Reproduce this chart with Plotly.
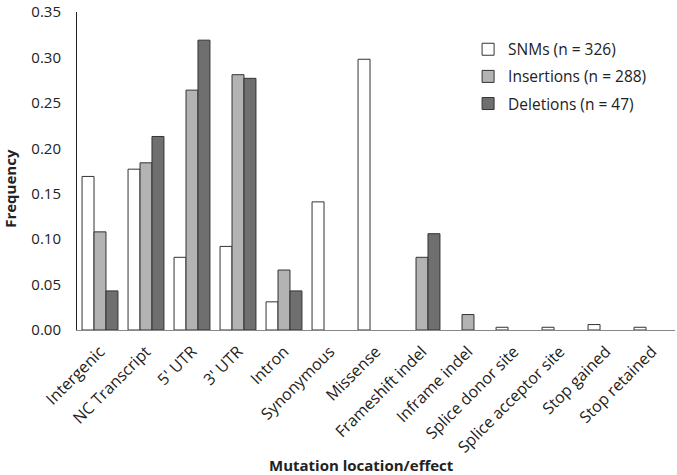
import plotly.graph_objects as go

categories = ["Intergenic", "NC Transcript", "5' UTR", "3' UTR", "Intron", "Synonymous",
              "Missense", "Frameshift indel", "Inframe indel", "Splice donor site",
              "Splice acceptor site", "Stop gained", "Stop retained"]
snms = [0.169, 0.177, 0.080, 0.092, 0.031, 0.141, 0.298, None, None, 0.003, 0.003, 0.006, 0.003]
insertions = [0.108, 0.184, 0.264, 0.281, 0.066, None, None, 0.080, 0.017, None, None, None, None]
deletions = [0.043, 0.213, 0.319, 0.277, 0.043, None, None, 0.106, None, None, None, None, None]
series_names = ["SNMs (n = 326)", "Insertions (n = 288)", "Deletions (n = 47)"]
colors = ["#ffffff", "#b3b3b3", "#6f6f6f"]
y_ticks = [0.00, 0.05, 0.10, 0.15, 0.20, 0.25, 0.30, 0.35]
x_title = "Mutation location/effect"
y_title = "Frequency"

font = "Open Sans, Lato, sans-serif"
fig = go.Figure()
for i, (name, vals, col) in enumerate(zip(series_names, [snms, insertions, deletions], colors)):
    fig.add_trace(go.Bar(x=categories, y=vals, name=name, marker_color=col,
                         marker_line_color="#333333", marker_line_width=1,
                         legendgroup="g%d" % i))

fig.add_annotation(text="<b>%s</b>" % x_title, xref="paper", yref="paper",
                   x=0.475, y=0, yshift=-135, xanchor="center", yanchor="middle",
                   showarrow=False, font=dict(size=15))
fig.add_annotation(text="<b>%s</b>" % y_title, xref="paper", yref="paper",
                   x=0, xshift=-67, y=0.444, xanchor="center", yanchor="middle",
                   textangle=-90, showarrow=False, font=dict(size=15))

fig.update_layout(
    width=677, height=475,
    margin=dict(l=77, r=2, t=12, b=145),
    paper_bgcolor="white", plot_bgcolor="white",
    barmode="group", bargap=0.22, bargroupgap=0,
    font=dict(family=font, size=15, color="#222222"),
    legend=dict(x=0.654, y=0.935, xanchor="left", yanchor="top", traceorder="grouped",
                font=dict(size=15.5), bgcolor="rgba(0,0,0,0)", tracegroupgap=4),
    xaxis=dict(tickangle=-45, showline=True, linecolor="#888888", linewidth=1,
               ticks="", tickfont=dict(size=16), automargin=False, ticklabelstandoff=5),
    yaxis=dict(range=[0, 0.35], tickvals=y_ticks, tickformat=".2f", showgrid=False,
               showline=True, linecolor="#222222", linewidth=1, ticks="", zeroline=False,
               tickfont=dict(size=15), automargin=False, ticklabelstandoff=12,
               ticklabeloverflow="allow"),
)
fig.write_html("out.html", config={"displayModeBar": False},
               post_script="document.body.style.margin='0';")
